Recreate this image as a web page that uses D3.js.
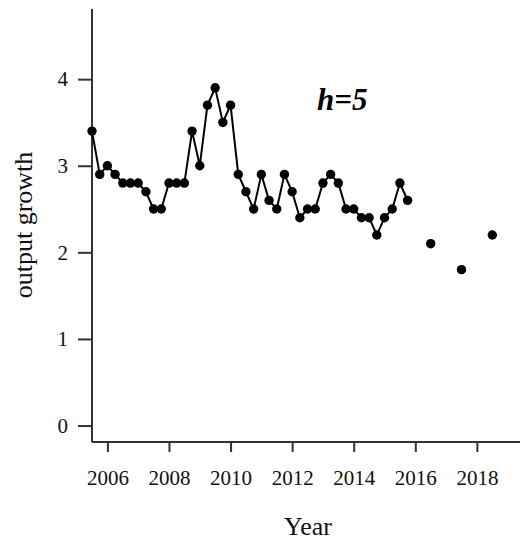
<!DOCTYPE html>
<html>
<head>
<meta charset="utf-8">
<script src="https://cdn.jsdelivr.net/npm/d3@7"></script>
<style>
  body { margin: 0; background: #fff; }
  text { font-family: "Liberation Serif", "Times New Roman", serif; }
</style>
</head>
<body>
<svg id="chart" width="520" height="540"></svg>
<script>
// quarterly observations, starting 2005 Q3 (2005.5)
const startYear = 2005.5;
const quarterValues = [
  3.4, 2.9, 3.0, 2.9, 2.8, 2.8, 2.8, 2.7, 2.5, 2.5,
  2.8, 2.8, 2.8, 3.4, 3.0, 3.7, 3.9, 3.5, 3.7, 2.9,
  2.7, 2.5, 2.9, 2.6, 2.5, 2.9, 2.7, 2.4, 2.5, 2.5,
  2.8, 2.9, 2.8, 2.5, 2.5, 2.4, 2.4, 2.2, 2.4, 2.5,
  2.8, 2.6
];
// annual forecasts (h=5)
const forecastYears = [2016.5, 2017.5, 2018.5];
const forecastValues = [2.1, 1.8, 2.2];
const xTicks = [2006, 2008, 2010, 2012, 2014, 2016, 2018];
const yTicks = [0, 1, 2, 3, 4];
const annotation = "h=5";

const observed = quarterValues.map((v, i) => ({ x: startYear + i * 0.25, y: v }));
const forecasts = forecastYears.map((x, i) => ({ x, y: forecastValues[i] }));

const svg = d3.select("#chart");
const x = d3.scaleLinear().domain([2005.5, 2019.4]).range([92, 520]);
const y = d3.scaleLinear().domain([-0.19, 4.81]).range([442, 9]);

const axisColor = "#333";
const serif = "'Liberation Serif', 'Times New Roman', serif";

// y axis
const yAxis = svg.append("g").attr("transform", "translate(92,0)")
  .call(d3.axisLeft(y).tickValues(yTicks).tickSize(14).tickPadding(10).tickFormat(d3.format("d")));
yAxis.attr("font-family", serif);
yAxis.select(".domain").attr("d", `M0,${y.range()[0]}V${y.range()[1]}`);
yAxis.selectAll("line, path").attr("stroke", axisColor).attr("stroke-width", 2);
yAxis.selectAll("text").attr("font-size", 21).attr("fill", "#111");

// x axis
const xAxis = svg.append("g").attr("transform", "translate(0,442)")
  .call(d3.axisBottom(x).tickValues(xTicks).tickSize(10).tickPadding(18).tickFormat(d3.format("d")));
xAxis.attr("font-family", serif);
xAxis.select(".domain").attr("d", `M${x.range()[0]},0H${x.range()[1]}`);
xAxis.selectAll("line, path").attr("stroke", axisColor).attr("stroke-width", 2);
xAxis.selectAll("text").attr("font-size", 21).attr("fill", "#111");

// line
svg.append("path").datum(observed)
  .attr("fill", "none").attr("stroke", "#000").attr("stroke-width", 2)
  .attr("d", d3.line().x(d => x(d.x)).y(d => y(d.y)));

// points
svg.append("g").selectAll("circle").data(observed.concat(forecasts)).join("circle")
  .attr("cx", d => x(d.x)).attr("cy", d => y(d.y)).attr("r", 4.7).attr("fill", "#000");

// annotation
svg.append("text").attr("x", 317).attr("y", 110)
  .attr("font-size", 31).attr("font-weight", "bold").attr("font-style", "italic")
  .attr("fill", "#000").text(annotation);

// axis titles
svg.append("text").attr("x", 308).attr("y", 535).attr("text-anchor", "middle")
  .attr("font-size", 26).attr("fill", "#111").text("Year");
svg.append("text").attr("transform", "translate(32,225) rotate(-90)").attr("text-anchor", "middle")
  .attr("font-size", 26).attr("fill", "#111").text("output growth");
</script>
</body>
</html>
